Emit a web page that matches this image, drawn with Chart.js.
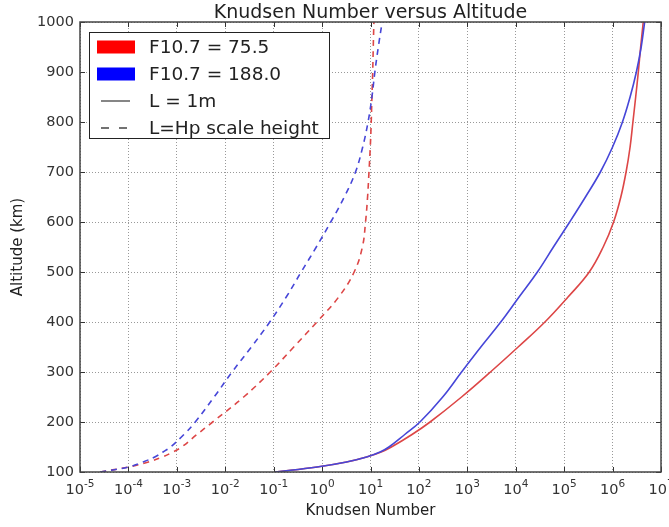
<!DOCTYPE html>
<html>
<head>
<meta charset="utf-8">
<script src="https://cdn.jsdelivr.net/npm/chart.js@4"></script>
<style>
  body { margin: 0; background: #fff; }
  canvas { display: block; }
</style>
</head>
<body>
<canvas id="knudsen" width="669" height="527"></canvas>
<script>
Chart.defaults.font.family = "'DejaVu Sans', sans-serif";
Chart.defaults.color = '#333';

// altitude samples (km), shared by all four curves
const ALT = [100, 110, 120, 130, 140, 150, 175, 200, 250, 300, 350, 400,
             450, 500, 550, 600, 650, 700, 750, 800, 850, 900, 950, 1000];

// Knudsen number, L = 1 m
const KN_LOW_1M  = [0.107, 0.79, 3.2, 8.3, 16.6, 27, 72, 170, 760, 3.0e3, 1.12e4, 4.0e4,
                    1.2e5, 3.3e5, 6.4e5, 1.05e6, 1.48e6, 1.9e6, 2.3e6, 2.63e6, 3.0e6, 3.4e6, 3.8e6, 4.3e6];
const KN_HIGH_1M = [0.107, 0.79, 3.2, 8.3, 15.8, 24, 51, 105, 310, 760, 1.9e3, 4.9e3,
                    1.17e4, 2.8e4, 6.0e4, 1.3e5, 2.75e5, 5.6e5, 1.0e6, 1.6e6, 2.3e6, 3.1e6, 3.9e6, 4.6e6];

// Knudsen number, L = Hp scale height
const KN_LOW_HP  = [2.6e-5, 1.0e-4, 2.6e-4, 5.0e-4, 8.3e-4, 1.26e-3, 2.6e-3, 5.5e-3, 0.024, 0.085, 0.26, 0.78,
                    2.2, 4.6, 6.8, 7.9, 8.7, 9.3, 9.9, 10.35, 10.7, 11.1, 11.4, 11.75];
const KN_HIGH_HP = [2.6e-5, 1.0e-4, 2.0e-4, 3.5e-4, 5.2e-4, 7.4e-4, 1.4e-3, 2.4e-3, 5.9e-3, 0.0138, 0.0347, 0.083,
                    0.182, 0.37, 0.76, 1.51, 2.88, 4.9, 6.9, 8.9, 10.7, 12.3, 14.5, 17.4];

const X_DECADES = [-5, -4, -3, -2, -1, 0, 1, 2, 3, 4, 5, 6, 7];
const X_TICK_EXPONENTS = ['-5', '-4', '-3', '-2', '-1', '0', '1', '2', '3', '4', '5', '6', '7'];
const Y_TICKS = [100, 200, 300, 400, 500, 600, 700, 800, 900, 1000];

const LEGEND_LABELS = ['F10.7 = 75.5', 'F10.7 = 188.0', 'L = 1m', 'L=Hp scale height'];

const RED  = '#dd4646';
const BLUE = '#4646d8';
const FONT = "'DejaVu Sans', sans-serif";

const toPoints = kn => kn.map((k, i) => ({ x: k, y: ALT[i] }));

const line = (label, kn, color, dash) => ({
    label,
    data: toPoints(kn),
    borderColor: color,
    borderWidth: 1.6,
    borderDash: dash,
    pointRadius: 0,
    fill: false,
    tension: 0.4,
});

// frame, inward ticks, x tick labels with superscripts, title and in-axes legend
const decorations = {
    id: 'decorations',
    afterDatasetsDraw(chart) {
        const { ctx, chartArea: a, scales: { x, y } } = chart;
        ctx.save();

        ctx.strokeStyle = '#333';
        ctx.lineWidth = 1;
        ctx.beginPath();
        Y_TICKS.forEach(v => {
            const py = Math.round(y.getPixelForValue(v)) + 0.5;
            ctx.moveTo(a.left, py);  ctx.lineTo(a.left + 5, py);
            ctx.moveTo(a.right, py); ctx.lineTo(a.right - 5, py);
        });
        X_DECADES.forEach(e => {
            const px = Math.round(x.getPixelForValue(Math.pow(10, e))) + 0.5;
            ctx.moveTo(px, a.top);    ctx.lineTo(px, a.top + 5);
            ctx.moveTo(px, a.bottom); ctx.lineTo(px, a.bottom - 5);
        });
        ctx.stroke();

        ctx.strokeStyle = '#444';
        ctx.lineWidth = 1.5;
        ctx.strokeRect(a.left, a.top, a.right - a.left, a.bottom - a.top);

        // x tick labels: base 10 with a raised exponent
        ctx.fillStyle = '#333';
        ctx.textBaseline = 'alphabetic';
        ctx.textAlign = 'left';
        const baseFont = '14.5px ' + FONT, expFont = '10.5px ' + FONT;
        X_DECADES.forEach((e, i) => {
            const px = x.getPixelForValue(Math.pow(10, e));
            ctx.font = baseFont;
            const wb = ctx.measureText('10').width;
            ctx.font = expFont;
            const we = ctx.measureText(X_TICK_EXPONENTS[i]).width;
            const x0 = px - (wb + we) / 2;
            ctx.font = baseFont;
            ctx.fillText('10', x0, a.bottom + 22);
            ctx.font = expFont;
            ctx.fillText(X_TICK_EXPONENTS[i], x0 + wb, a.bottom + 15);
        });

        // title
        ctx.fillStyle = '#222';
        ctx.font = '19px ' + FONT;
        ctx.textAlign = 'center';
        ctx.textBaseline = 'middle';
        ctx.fillText('Knudsen Number versus Altitude', (a.left + a.right) / 2, 13);

        // legend
        const bx = a.left + 9, by = a.top + 10, bw = 240, bh = 106;
        ctx.fillStyle = '#fff';
        ctx.fillRect(bx, by, bw, bh);
        ctx.strokeStyle = '#222';
        ctx.lineWidth = 1;
        ctx.strokeRect(bx + 0.5, by + 0.5, bw, bh);

        const rowY = i => by + 15 + i * 27;
        ctx.fillStyle = '#ff0000';
        ctx.fillRect(bx + 8, rowY(0) - 6.5, 38, 13);
        ctx.fillStyle = '#0000ff';
        ctx.fillRect(bx + 8, rowY(1) - 6.5, 38, 13);

        ctx.strokeStyle = '#444';
        ctx.lineWidth = 1.3;
        ctx.beginPath();
        ctx.moveTo(bx + 12, rowY(2)); ctx.lineTo(bx + 41, rowY(2));
        ctx.stroke();
        ctx.setLineDash([8, 10]);
        ctx.beginPath();
        ctx.moveTo(bx + 12, rowY(3)); ctx.lineTo(bx + 41, rowY(3));
        ctx.stroke();
        ctx.setLineDash([]);

        ctx.fillStyle = '#222';
        ctx.font = '18.5px ' + FONT;
        ctx.textAlign = 'left';
        LEGEND_LABELS.forEach((t, i) => ctx.fillText(t, bx + 60, rowY(i) + 1));

        ctx.restore();
    }
};

new Chart(document.getElementById('knudsen'), {
    type: 'line',
    data: {
        datasets: [
            line('F10.7 = 188.0, L = 1m', KN_HIGH_1M, BLUE, []),
            line('F10.7 = 188.0, L = Hp', KN_HIGH_HP, BLUE, [6, 5]),
            line('F10.7 = 75.5, L = 1m',  KN_LOW_1M,  RED,  []),
            line('F10.7 = 75.5, L = Hp',  KN_LOW_HP,  RED,  [6, 5]),
        ]
    },
    options: {
        responsive: false,
        animation: false,
        indexAxis: 'y',
        layout: { padding: { top: 22, right: 8, left: 0, bottom: 0 } },
        plugins: {
            legend: { display: false },
            tooltip: { enabled: false },
            title: { display: false },
        },
        scales: {
            x: {
                type: 'logarithmic',
                min: 1e-5,
                max: 1e7,
                afterBuildTicks: scale => {
                    scale.ticks = X_DECADES.map(e => ({ value: Math.pow(10, e) }));
                },
                afterFit: scale => { scale.height = 55; },
                ticks: { display: false },
                grid: { color: '#999', lineWidth: 1, drawTicks: false },
                border: { display: false, dash: [1, 2] },
                title: {
                    display: true,
                    text: 'Knudsen Number',
                    color: '#222',
                    font: { size: 15 },
                    padding: { top: 0, bottom: 7 },
                },
            },
            y: {
                type: 'linear',
                min: 100,
                max: 1000,
                afterFit: scale => { scale.width = 80; },
                ticks: {
                    stepSize: 100,
                    padding: 6,
                    color: '#333',
                    font: { size: 14.5 },
                    callback: v => String(v),
                },
                grid: { color: '#999', lineWidth: 1, drawTicks: false },
                border: { display: false, dash: [1, 2] },
                title: {
                    display: true,
                    text: 'Altitude (km)',
                    color: '#222',
                    font: { size: 15 },
                    padding: { top: 9, bottom: 0 },
                },
            },
        },
    },
    plugins: [decorations],
});
</script>
</body>
</html>
